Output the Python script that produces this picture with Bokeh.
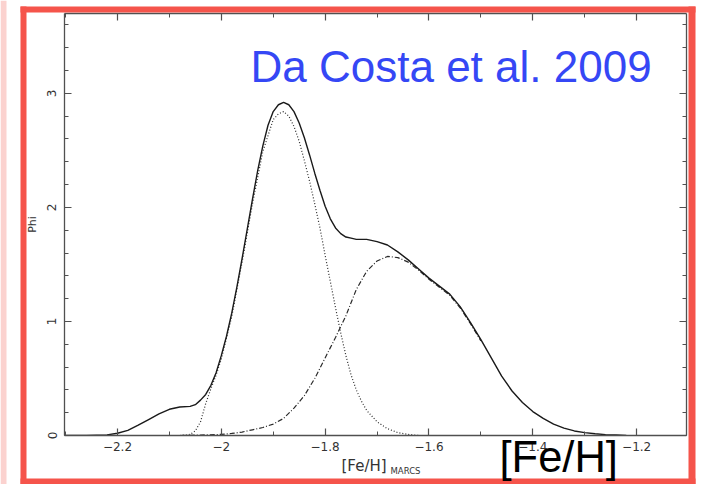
from bokeh.plotting import figure
from bokeh.models import (Range1d, LinearAxis, SingleIntervalTicker,
                          CustomJSTickFormatter, BasicTickFormatter)
from bokeh.core.properties import value
from bokeh.embed import file_html
from bokeh.resources import INLINE

# Generalized metallicity distribution (total)
feh_total = [-2.30, -2.26, -2.22, -2.20, -2.18, -2.16, -2.14, -2.12, -2.10, -2.08,
             -2.06, -2.05, -2.04, -2.03, -2.02, -2.01, -2.00, -1.99, -1.98, -1.97,
             -1.96, -1.95, -1.94, -1.93, -1.92, -1.91, -1.90, -1.89, -1.88, -1.87,
             -1.86, -1.85, -1.84, -1.83, -1.82, -1.81, -1.80, -1.79, -1.78, -1.77,
             -1.76, -1.75, -1.74, -1.72, -1.70, -1.68, -1.66, -1.64, -1.62, -1.60,
             -1.58, -1.56, -1.54, -1.52, -1.50, -1.48, -1.46, -1.44, -1.42, -1.40,
             -1.38, -1.36, -1.34, -1.32, -1.30, -1.28, -1.26, -1.24, -1.22]
phi_total = [0.0, 0.0, 0.005, 0.02, 0.045, 0.09, 0.14, 0.19, 0.23, 0.25,
             0.255, 0.27, 0.31, 0.36, 0.44, 0.55, 0.70, 0.87, 1.07, 1.30,
             1.55, 1.81, 2.07, 2.32, 2.54, 2.72, 2.84, 2.90, 2.92, 2.90,
             2.84, 2.74, 2.61, 2.46, 2.30, 2.15, 2.01, 1.90, 1.82, 1.77,
             1.74, 1.73, 1.72, 1.72, 1.70, 1.67, 1.61, 1.54, 1.46, 1.38,
             1.31, 1.24, 1.13, 0.99, 0.84, 0.68, 0.52, 0.39, 0.29, 0.21,
             0.15, 0.10, 0.065, 0.04, 0.025, 0.015, 0.008, 0.004, 0.0]

# Metal-poor component (dotted)
feh_poor = [-2.08, -2.06, -2.05, -2.04, -2.03, -2.02, -2.01, -2.00, -1.98, -1.96,
            -1.94, -1.92, -1.90, -1.89, -1.88, -1.87, -1.86, -1.85, -1.84, -1.83,
            -1.82, -1.81, -1.80, -1.79, -1.78, -1.77, -1.76, -1.75, -1.74, -1.73,
            -1.72, -1.70, -1.68, -1.66, -1.64, -1.62]
phi_poor = [0.0, 0.01, 0.04, 0.12, 0.28, 0.41, 0.53, 0.67, 1.04, 1.52,
            2.03, 2.49, 2.77, 2.82, 2.84, 2.80, 2.71, 2.58, 2.41, 2.23,
            2.03, 1.82, 1.58, 1.35, 1.12, 0.90, 0.70, 0.53, 0.40, 0.30,
            0.22, 0.12, 0.06, 0.025, 0.01, 0.0]

# Metal-rich component (dash-dot)
feh_rich = [-2.08, -2.04, -2.00, -1.98, -1.96, -1.94, -1.92, -1.90, -1.88, -1.86,
            -1.84, -1.82, -1.80, -1.78, -1.76, -1.74, -1.72, -1.70, -1.68, -1.66,
            -1.64, -1.62, -1.60, -1.58, -1.56, -1.54, -1.52, -1.50]
phi_rich = [0.0, 0.004, 0.01, 0.018, 0.03, 0.05, 0.07, 0.10, 0.15, 0.24,
            0.35, 0.50, 0.68, 0.86, 1.05, 1.28, 1.44, 1.53, 1.57, 1.56,
            1.52, 1.45, 1.37, 1.30, 1.23, 1.12, 0.98, 0.83]

# Overlay texts (slide annotations)
headline = "Da Costa et al. 2009"
big_label = "[Fe/H]"
x_title = "[Fe/H]"
x_title_sub = "MARCS"

X_MIN, X_MAX = -2.302, -1.104
Y_MIN, Y_MAX = 0.0, 3.70

W, H = 701, 484
AXIS_COLOR = "#505050"
TEXT_COLOR = "#333333"
TICK_FONT = "DejaVu Sans"
SLIDE_FONT = "Liberation Sans"
RED = "#f5544b"
PINK = "#fbd2cf"
BLUE = "#3547f5"

# ---------------------------------------------------------------- main chart
p = figure(width=W, height=H, output_backend="svg", toolbar_location=None,
           x_range=Range1d(X_MIN, X_MAX), y_range=Range1d(Y_MIN, Y_MAX),
           x_axis_type=None, y_axis_type=None,
           min_border_left=64, min_border_right=15,
           min_border_top=13, min_border_bottom=49)
p.outline_line_color = None
p.background_fill_color = "white"
p.border_fill_color = "white"
p.styles = {"position": "absolute", "left": "0px", "top": "0px"}

minus_fmt = CustomJSTickFormatter(code="""
    const v = Math.round(tick * 10) / 10;
    return (v < 0 ? "\\u2212" : "") + Math.abs(v).toString();
""")
blank_fmt = CustomJSTickFormatter(code="return '';")


def styled_axis(interval, minors, formatter):
    ax = LinearAxis(ticker=SingleIntervalTicker(interval=interval, num_minor_ticks=minors),
                    formatter=formatter)
    ax.axis_line_color = AXIS_COLOR
    ax.axis_line_width = 1.3
    ax.major_tick_line_color = AXIS_COLOR
    ax.minor_tick_line_color = AXIS_COLOR
    ax.major_tick_line_width = 1.2
    ax.minor_tick_line_width = 1.0
    ax.major_tick_in = 7
    ax.major_tick_out = 0
    ax.minor_tick_in = 4
    ax.minor_tick_out = 0
    ax.major_label_text_font = TICK_FONT
    ax.major_label_text_font_size = "12px"
    ax.major_label_text_color = TEXT_COLOR
    return ax


xb = styled_axis(0.2, 2, minus_fmt)
xb.major_label_standoff = 6
p.add_layout(xb, "below")

xt = styled_axis(0.2, 2, blank_fmt)
xt.major_label_standoff = 0
xt.major_label_text_font_size = "1px"
p.add_layout(xt, "above")

yl = styled_axis(1, 5, BasicTickFormatter())
yl.major_label_orientation = "parallel"
yl.major_label_standoff = 8
yl.axis_label = "Phi"
yl.axis_label_text_font = TICK_FONT
yl.axis_label_text_font_size = "11px"
yl.axis_label_text_font_style = "normal"
yl.axis_label_text_color = TEXT_COLOR
yl.axis_label_standoff = 6
p.add_layout(yl, "left")

yr = styled_axis(1, 5, blank_fmt)
yr.major_label_standoff = 0
yr.major_label_text_font_size = "1px"
p.add_layout(yr, "right")

p.line(feh_rich, phi_rich, line_color="#2a2a2a", line_width=1.2, line_dash="5 2 1 2")
p.line(feh_poor, phi_poor, line_color="#2a2a2a", line_width=1.2, line_dash="1 2")
p.line(feh_total, phi_total, line_color="#1a1a1a", line_width=1.4)

# ------------------------------------------- slide layer (pixel coordinates)
deco = figure(width=W, height=H, output_backend="svg", toolbar_location=None,
              x_range=Range1d(0, W), y_range=Range1d(H, 0),
              x_axis_type=None, y_axis_type=None,
              min_border=0, min_border_left=0, min_border_right=0,
              min_border_top=0, min_border_bottom=0)
deco.outline_line_color = None
deco.background_fill_alpha = 0
deco.border_fill_alpha = 0
deco.styles = {"position": "absolute", "left": "0px", "top": "0px"}

# slide edge strip and red frame
deco.quad(left=[0], right=[6], top=[0], bottom=[H], fill_color=PINK, line_color=None)
deco.quad(left=[20, 688, 20, 20], right=[26, 695, 695, 695],
          top=[6, 6, 6, 478], bottom=[H, H, 12, H],
          fill_color=RED, line_color=None)


def slide_text(x, y, txt, font, size, color):
    deco.text(x=[x], y=[y], text=[txt], text_font=value(font),
              text_font_size=value(f"{size}px"), text_color=color,
              text_baseline="middle", text_align="left")


# x-axis title with subscript
slide_text(341, 465, x_title, TICK_FONT, 15, TEXT_COLOR)
slide_text(390, 470, x_title_sub, TICK_FONT, 8.5, TEXT_COLOR)

# slide texts
slide_text(250, 66, headline, SLIDE_FONT, 44, BLUE)
slide_text(499, 456, big_label, SLIDE_FONT, 43.5, "black")

open("out.html", "w").write(file_html([p, deco], INLINE))
